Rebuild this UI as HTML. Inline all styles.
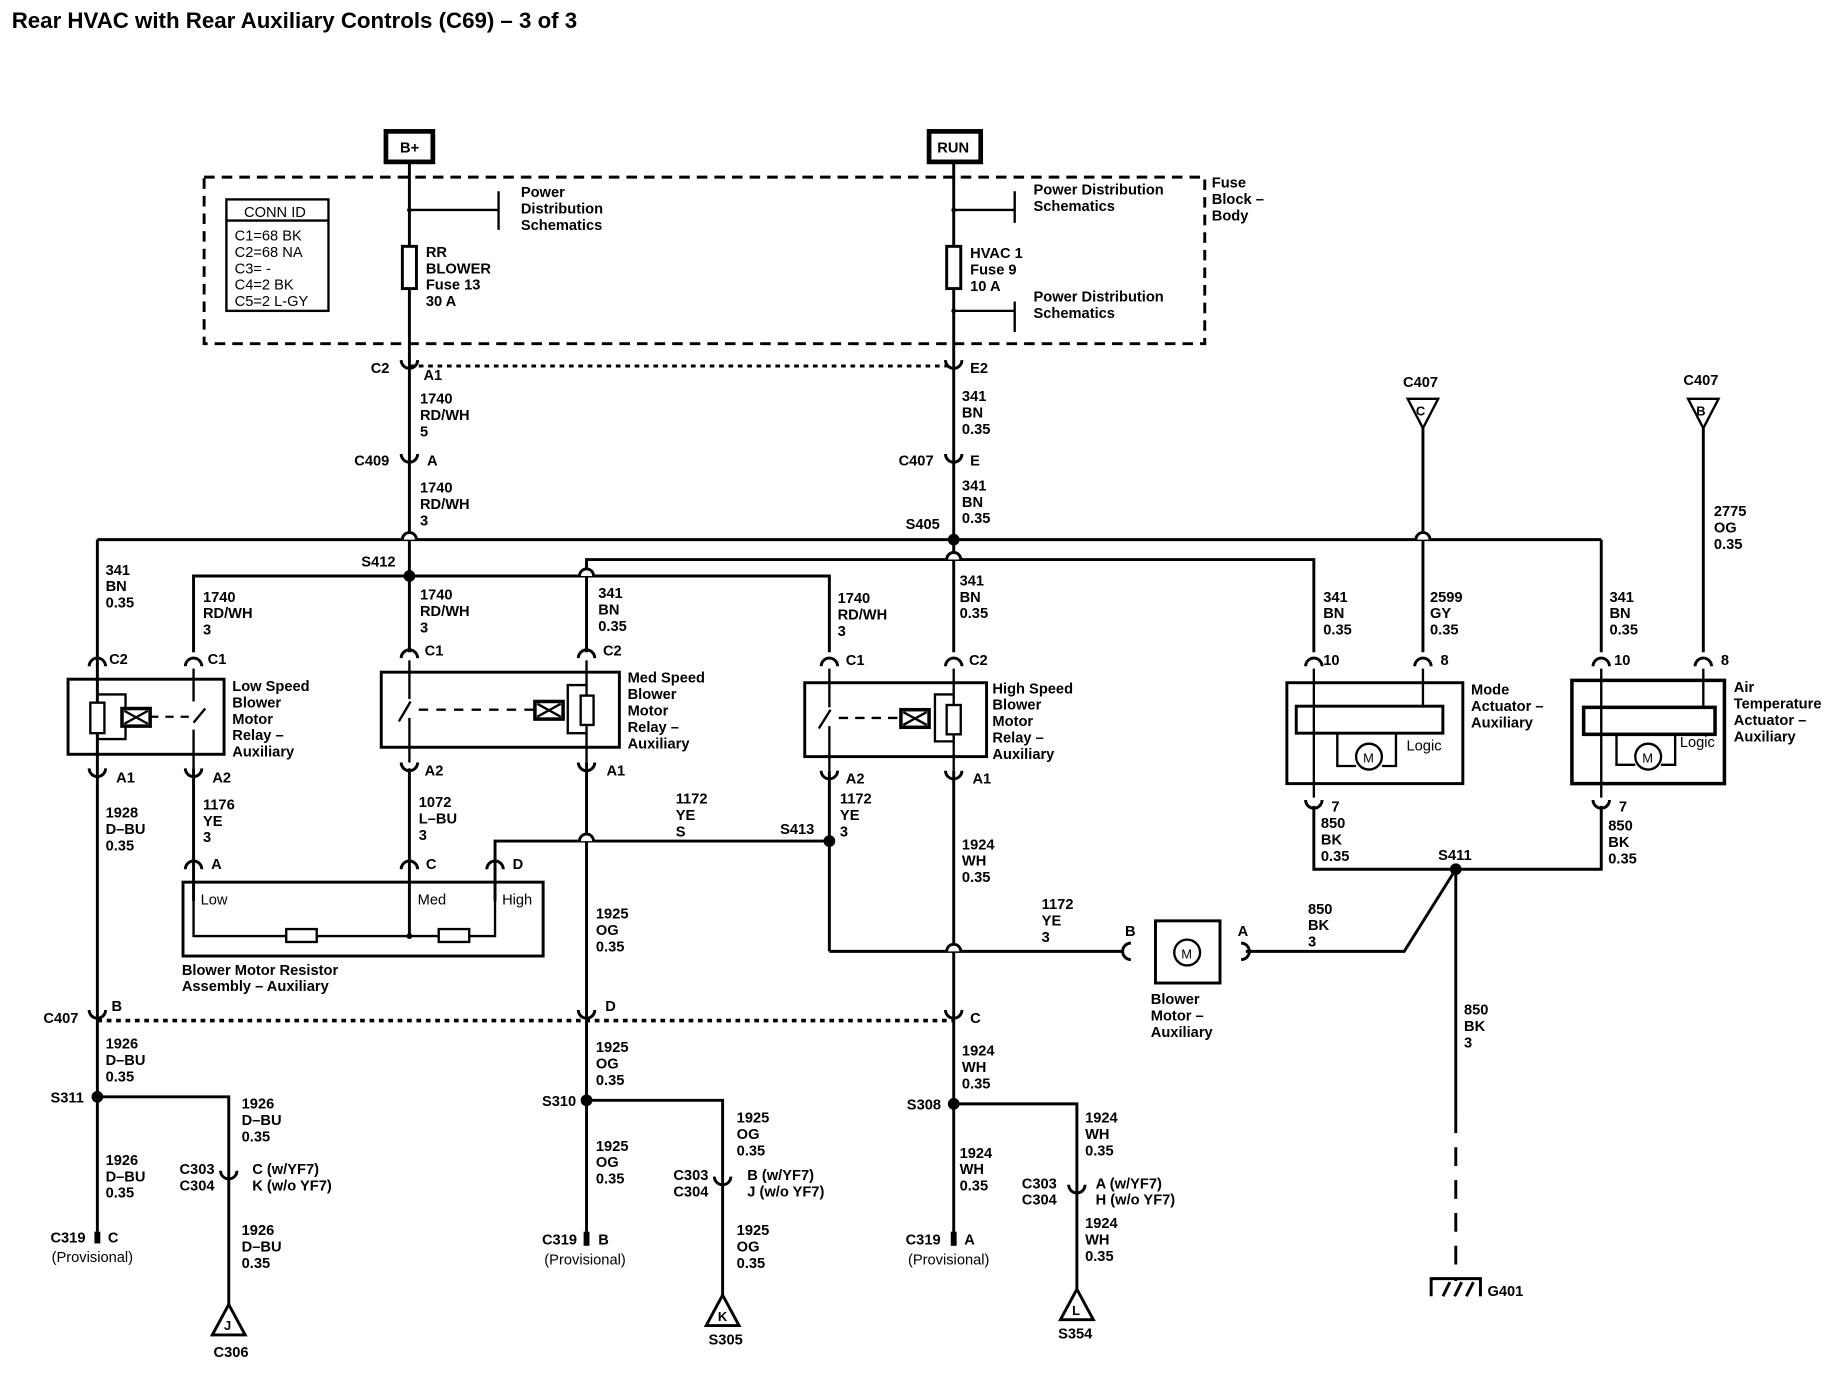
<!DOCTYPE html>
<html><head><meta charset="utf-8"><style>
html,body{margin:0;padding:0;background:#fff}
svg{display:block}
text{font-family:"Liberation Sans",sans-serif;font-size:12.5px;fill:#000;font-weight:bold}
.t{font-size:19px}
.n{font-weight:normal}
</style></head><body>
<svg width="1830" height="1376" viewBox="0 0 1560 1173" preserveAspectRatio="none" xmlns="http://www.w3.org/2000/svg">
<defs>
<path id="up" d="M-7,5 A7,7 0 0 1 7,5" fill="none" stroke="#000" stroke-width="2.5"/>
<path id="dn" d="M-7,-5 A7,7 0 0 0 7,-5" fill="none" stroke="#000" stroke-width="2.5"/>
<path id="hop" d="M-6,0 A6,6 0 0 1 6,0" fill="#fff" stroke="#000" stroke-width="2.5"/>
</defs>
<rect width="1560" height="1173" fill="#fff"/>
<text x="10" y="24" class="t">Rear HVAC with Rear Auxiliary Controls (C69) – 3 of 3</text>

<g fill="none" stroke="#000" stroke-width="2.5">
<rect x="329" y="112" width="40" height="26" stroke-width="4"/>
<rect x="792" y="112" width="44" height="26" stroke-width="4"/>
<rect x="174" y="151" width="853" height="142" stroke-dasharray="9,6" stroke-width="2.5"/>
<rect x="193" y="170" width="87" height="95" stroke-width="2"/>
<line x1="193" y1="188" x2="280" y2="188" stroke-width="2"/>
<line x1="349" y1="138" x2="349" y2="556"/>
<line x1="813" y1="138" x2="813" y2="556"/>
<rect x="343" y="210" width="12" height="36" fill="#fff"/>
<rect x="807" y="210" width="12" height="36" fill="#fff"/>
<path d="M349,179 H425 M425,163 V196 M813,179 H865 M865,163 V190 M813,265 H865 M865,257 V283" stroke-width="2"/>
<line x1="349" y1="312" x2="813" y2="312" stroke-dasharray="4,4" stroke-width="2.5"/>
<line x1="83" y1="460" x2="1365" y2="460"/>
<path d="M500,556 V477 H1120 V556"/>
<path d="M165,556 V491 H707 V556"/>
<line x1="83" y1="460" x2="83" y2="1050"/>
<line x1="1365" y1="460" x2="1365" y2="556"/>
<line x1="1213" y1="365" x2="1213" y2="556"/>
<line x1="1452" y1="365" x2="1452" y2="556"/>
<path d="M1200,340 H1226 L1213,365 Z M1439,340 H1465 L1452,365 Z" stroke-width="2"/>
<rect x="58" y="579" width="133" height="64"/>
<rect x="325" y="573" width="203" height="64"/>
<rect x="686" y="582" width="155" height="63"/>
<path d="M83,570 V655 M83,592 H107 V630 H83 M165,570 V598 M165,622 V655 M165,616 L175,604" stroke-width="2"/>
<rect x="77" y="599" width="12" height="26" fill="#fff" stroke-width="2"/>
<rect x="104" y="604" width="24" height="15" fill="#fff" stroke-width="3"/>
<path d="M106,606 L126,617 M126,606 L106,617" stroke-width="2"/>
<line x1="128" y1="611" x2="163" y2="611" stroke-dasharray="7,6" stroke-width="2"/>
<path d="M349,563 V596 M349,612 V650 M340,615 L350,598 M500,563 V650 M500,584 H484 V625 H500" stroke-width="2"/>
<rect x="495" y="593" width="11" height="25" fill="#fff" stroke-width="2"/>
<rect x="456" y="598" width="24" height="15" fill="#fff" stroke-width="3"/>
<path d="M458,600 L478,611 M478,600 L458,611" stroke-width="2"/>
<line x1="357" y1="605" x2="455" y2="605" stroke-dasharray="8,7" stroke-width="2"/>
<path d="M707,570 V603 M707,619 V657 M698,621 L708,605 M813,570 V657 M813,592 H797 V632 H813" stroke-width="2"/>
<rect x="807" y="601" width="12" height="25" fill="#fff" stroke-width="2"/>
<rect x="768" y="605" width="24" height="15" fill="#fff" stroke-width="3"/>
<path d="M770,607 L790,618 M790,607 L770,618" stroke-width="2"/>
<line x1="715" y1="612" x2="767" y2="612" stroke-dasharray="8,6" stroke-width="2"/>
<line x1="165" y1="655" x2="165" y2="768"/>
<line x1="349" y1="655" x2="349" y2="798"/>
<line x1="500" y1="650" x2="500" y2="1050"/>
<line x1="707" y1="657" x2="707" y2="811"/>
<line x1="813" y1="657" x2="813" y2="1055"/>
<path d="M422,768 V717 H707"/>
<path d="M707,811 H958"/>
<rect x="156" y="752" width="307" height="63"/>
<path d="M165,740 V798 H422 V740" stroke-width="2"/>
<rect x="244" y="792" width="26" height="11" fill="#fff" stroke-width="2"/>
<rect x="374" y="792" width="26" height="11" fill="#fff" stroke-width="2"/>
<rect x="985" y="785" width="55" height="53"/>
<circle cx="1012" cy="812" r="11" stroke-width="2"/>
<path d="M1062,811 H1197 L1241,741"/>
<rect x="1097" y="582" width="150" height="86"/>
<rect x="1105" y="602" width="125" height="23"/>
<path d="M1120,570 V680 M1213,570 V602 M1140,625 V653 H1156 M1178,653 H1190 V625" stroke-width="2"/>
<circle cx="1167" cy="645" r="11" stroke-width="2"/>
<rect x="1340" y="580" width="130" height="88" stroke-width="3"/>
<rect x="1350" y="603" width="112" height="23" stroke-width="3"/>
<path d="M1365,570 V680 M1452,570 V603 M1378,626 V652 H1394 M1416,652 H1428 V626" stroke-width="2"/>
<circle cx="1405" cy="645" r="11" stroke-width="2"/>
<path d="M1120,687 V741 H1365 V687"/>
<line x1="1241" y1="741" x2="1241" y2="950"/>
<line x1="1241" y1="950" x2="1241" y2="1092" stroke-dasharray="16,12"/>
<path d="M1220,1105 V1090 H1262 V1105 M1230,1105 L1236,1093 M1240,1105 L1246,1093 M1250,1105 L1256,1093" stroke-width="2.5"/>
<line x1="83" y1="870" x2="813" y2="870" stroke-dasharray="4,4" stroke-width="3"/>
<path d="M83,935 H195 V1112"/>
<path d="M500,938 H616 V1105"/>
<path d="M813,941 H918 V1100"/>
<line x1="83" y1="1050" x2="83" y2="1060" stroke-width="5"/>
<line x1="500" y1="1050" x2="500" y2="1062" stroke-width="5"/>
<line x1="813" y1="1050" x2="813" y2="1062" stroke-width="5"/>
<path d="M181,1138 H209 L195,1112 Z M602,1130 H630 L616,1104 Z M904,1125 H932 L918,1099 Z" stroke-width="2.5"/>
</g>
<use href="#hop" x="349" y="460"/><use href="#hop" x="1213" y="460"/>
<use href="#hop" x="813" y="477"/><use href="#hop" x="500" y="491"/>
<use href="#hop" x="500" y="717"/><use href="#hop" x="813" y="811"/>
<g fill="#000">
<circle cx="349" cy="491" r="5"/><circle cx="813" cy="460" r="5"/>
<circle cx="707" cy="717" r="5"/><circle cx="1241" cy="741" r="5"/>
<circle cx="83" cy="935" r="5"/><circle cx="500" cy="938" r="5"/><circle cx="813" cy="941" r="5"/>
<circle cx="349" cy="179" r="2"/><circle cx="813" cy="179" r="2"/><circle cx="813" cy="265" r="2"/>
<circle cx="349" cy="798" r="2.5"/>
</g>
<use href="#dn" x="349" y="312"/><use href="#dn" x="813" y="312"/>
<use href="#dn" x="349" y="392"/><use href="#dn" x="813" y="392"/>
<use href="#up" x="83" y="563"/><use href="#up" x="165" y="563"/>
<use href="#up" x="349" y="556"/><use href="#up" x="500" y="556"/>
<use href="#up" x="707" y="563"/><use href="#up" x="813" y="563"/>
<use href="#up" x="1120" y="563"/><use href="#up" x="1213" y="563"/>
<use href="#up" x="1365" y="563"/><use href="#up" x="1452" y="563"/>
<use href="#dn" x="83" y="660"/><use href="#dn" x="165" y="660"/>
<use href="#dn" x="349" y="655"/><use href="#dn" x="500" y="655"/>
<use href="#dn" x="707" y="662"/><use href="#dn" x="813" y="662"/>
<use href="#dn" x="1120" y="687"/><use href="#dn" x="1365" y="687"/>
<use href="#up" x="165" y="736"/><use href="#up" x="349" y="736"/><use href="#up" x="422" y="736"/>
<use href="#dn" x="83" y="866"/><use href="#dn" x="500" y="866"/><use href="#dn" x="813" y="866"/>
<use href="#dn" x="195" y="1003"/><use href="#dn" x="616" y="1008"/><use href="#dn" x="918" y="1015"/>
<path d="M964,804 A7,7 0 0 0 964,818 M1058,804 A7,7 0 0 1 1058,818" fill="none" stroke="#000" stroke-width="2.5"/>

<text x="341" y="130">B+</text><text x="799" y="130">RUN</text>
<text x="208" y="185" style="font-weight:normal">CONN ID</text>
<text x="200" y="205" style="font-weight:normal">C1=68 BK</text>
<text x="200" y="219" style="font-weight:normal">C2=68 NA</text>
<text x="200" y="233" style="font-weight:normal">C3= -</text>
<text x="200" y="247" style="font-weight:normal">C4=2 BK</text>
<text x="200" y="261" style="font-weight:normal">C5=2 L-GY</text>
<text x="444" y="168">Power</text><text x="444" y="182">Distribution</text><text x="444" y="196">Schematics</text>
<text x="363" y="219">RR</text><text x="363" y="233">BLOWER</text><text x="363" y="247">Fuse 13</text><text x="363" y="261">30 A</text>
<text x="881" y="166">Power Distribution</text><text x="881" y="180">Schematics</text>
<text x="827" y="220">HVAC 1</text><text x="827" y="234">Fuse 9</text><text x="827" y="248">10 A</text>
<text x="881" y="257">Power Distribution</text><text x="881" y="271">Schematics</text>
<text x="1033" y="160">Fuse</text><text x="1033" y="174">Block –</text><text x="1033" y="188">Body</text>
<text x="316" y="318">C2</text><text x="361" y="324">A1</text>
<text x="827" y="318">E2</text>
<text x="358" y="344">1740</text><text x="358" y="358">RD/WH</text><text x="358" y="372">5</text>
<text x="820" y="342">341</text><text x="820" y="356">BN</text><text x="820" y="370">0.35</text>
<text x="302" y="397">C409</text><text x="364" y="397">A</text>
<text x="766" y="397">C407</text><text x="827" y="397">E</text>
<text x="358" y="420">1740</text><text x="358" y="434">RD/WH</text><text x="358" y="448">3</text>
<text x="820" y="418">341</text><text x="820" y="432">BN</text><text x="820" y="446">0.35</text>
<text x="772" y="451">S405</text><text x="308" y="483">S412</text>
<text x="1196" y="330">C407</text><text x="1435" y="328">C407</text>
<text x="1207" y="354" style="font-size:11px">C</text><text x="1446" y="354" style="font-size:11px">B</text>
<text x="1461" y="440">2775</text><text x="1461" y="454">OG</text><text x="1461" y="468">0.35</text>
<text x="90" y="490">341</text><text x="90" y="504">BN</text><text x="90" y="518">0.35</text>
<text x="173" y="513">1740</text><text x="173" y="527">RD/WH</text><text x="173" y="541">3</text>
<text x="358" y="511">1740</text><text x="358" y="525">RD/WH</text><text x="358" y="539">3</text>
<text x="510" y="510">341</text><text x="510" y="524">BN</text><text x="510" y="538">0.35</text>
<text x="714" y="514">1740</text><text x="714" y="528">RD/WH</text><text x="714" y="542">3</text>
<text x="818" y="499">341</text><text x="818" y="513">BN</text><text x="818" y="527">0.35</text>
<text x="1128" y="513">341</text><text x="1128" y="527">BN</text><text x="1128" y="541">0.35</text>
<text x="1219" y="513">2599</text><text x="1219" y="527">GY</text><text x="1219" y="541">0.35</text>
<text x="1372" y="513">341</text><text x="1372" y="527">BN</text><text x="1372" y="541">0.35</text>
<text x="93" y="566">C2</text><text x="177" y="566">C1</text>
<text x="362" y="559">C1</text><text x="514" y="559">C2</text>
<text x="721" y="567">C1</text><text x="826" y="567">C2</text>
<text x="1128" y="567">10</text><text x="1228" y="567">8</text>
<text x="1376" y="567">10</text><text x="1467" y="567">8</text>
<text x="198" y="589">Low Speed</text><text x="198" y="603">Blower</text><text x="198" y="617">Motor</text><text x="198" y="631">Relay –</text><text x="198" y="645">Auxiliary</text>
<text x="535" y="582">Med Speed</text><text x="535" y="596">Blower</text><text x="535" y="610">Motor</text><text x="535" y="624">Relay –</text><text x="535" y="638">Auxiliary</text>
<text x="846" y="591">High Speed</text><text x="846" y="605">Blower</text><text x="846" y="619">Motor</text><text x="846" y="633">Relay –</text><text x="846" y="647">Auxiliary</text>
<text x="1254" y="592">Mode</text><text x="1254" y="606">Actuator –</text><text x="1254" y="620">Auxiliary</text>
<text x="1478" y="590">Air</text><text x="1478" y="604">Temperature</text><text x="1478" y="618">Actuator –</text><text x="1478" y="632">Auxiliary</text>
<text x="1199" y="640" style="font-weight:normal">Logic</text><text x="1432" y="637" style="font-weight:normal">Logic</text>
<text x="1162" y="650" style="font-weight:normal;font-size:11px">M</text><text x="1400" y="650" style="font-weight:normal;font-size:11px">M</text>
<text x="1007" y="817" style="font-weight:normal;font-size:11px">M</text>
<text x="99" y="667">A1</text><text x="181" y="667">A2</text>
<text x="362" y="661">A2</text><text x="517" y="661">A1</text>
<text x="721" y="668">A2</text><text x="829" y="668">A1</text>
<text x="1135" y="692">7</text><text x="1380" y="692">7</text>
<text x="90" y="697">1928</text><text x="90" y="711">D–BU</text><text x="90" y="725">0.35</text>
<text x="173" y="690">1176</text><text x="173" y="704">YE</text><text x="173" y="718">3</text>
<text x="357" y="688">1072</text><text x="357" y="702">L–BU</text><text x="357" y="716">3</text>
<text x="576" y="685">1172</text><text x="576" y="699">YE</text><text x="576" y="713">S</text>
<text x="716" y="685">1172</text><text x="716" y="699">YE</text><text x="716" y="713">3</text>
<text x="665" y="711">S413</text>
<text x="1126" y="706">850</text><text x="1126" y="720">BK</text><text x="1126" y="734">0.35</text>
<text x="1371" y="708">850</text><text x="1371" y="722">BK</text><text x="1371" y="736">0.35</text>
<text x="1226" y="733">S411</text>
<text x="820" y="724">1924</text><text x="820" y="738">WH</text><text x="820" y="752">0.35</text>
<text x="180" y="741">A</text><text x="363" y="741">C</text><text x="437" y="741">D</text>
<text x="171" y="771" style="font-weight:normal">Low</text><text x="356" y="771" style="font-weight:normal">Med</text><text x="428" y="771" style="font-weight:normal">High</text>
<text x="508" y="783">1925</text><text x="508" y="797">OG</text><text x="508" y="811">0.35</text>
<text x="888" y="775">1172</text><text x="888" y="789">YE</text><text x="888" y="803">3</text>
<text x="1115" y="779">850</text><text x="1115" y="793">BK</text><text x="1115" y="807">3</text>
<text x="959" y="798">B</text><text x="1055" y="798">A</text>
<text x="155" y="831">Blower Motor Resistor</text><text x="155" y="845">Assembly – Auxiliary</text>
<text x="981" y="856">Blower</text><text x="981" y="870">Motor –</text><text x="981" y="884">Auxiliary</text>
<text x="1248" y="865">850</text><text x="1248" y="879">BK</text><text x="1248" y="893">3</text>
<text x="37" y="872">C407</text><text x="95" y="862">B</text><text x="516" y="862">D</text><text x="827" y="872">C</text>
<text x="90" y="894">1926</text><text x="90" y="908">D–BU</text><text x="90" y="922">0.35</text>
<text x="508" y="897">1925</text><text x="508" y="911">OG</text><text x="508" y="925">0.35</text>
<text x="820" y="900">1924</text><text x="820" y="914">WH</text><text x="820" y="928">0.35</text>
<text x="43" y="940">S311</text><text x="462" y="943">S310</text><text x="773" y="946">S308</text>
<text x="206" y="945">1926</text><text x="206" y="959">D–BU</text><text x="206" y="973">0.35</text>
<text x="628" y="957">1925</text><text x="628" y="971">OG</text><text x="628" y="985">0.35</text>
<text x="925" y="957">1924</text><text x="925" y="971">WH</text><text x="925" y="985">0.35</text>
<text x="90" y="993">1926</text><text x="90" y="1007">D–BU</text><text x="90" y="1021">0.35</text>
<text x="508" y="981">1925</text><text x="508" y="995">OG</text><text x="508" y="1009">0.35</text>
<text x="818" y="987">1924</text><text x="818" y="1001">WH</text><text x="818" y="1015">0.35</text>
<text x="153" y="1001">C303</text><text x="153" y="1015">C304</text><text x="215" y="1001">C (w/YF7)</text><text x="215" y="1015">K (w/o YF7)</text>
<text x="574" y="1006">C303</text><text x="574" y="1020">C304</text><text x="637" y="1006">B (w/YF7)</text><text x="637" y="1020">J (w/o YF7)</text>
<text x="871" y="1013">C303</text><text x="871" y="1027">C304</text><text x="934" y="1013">A (w/YF7)</text><text x="934" y="1027">H (w/o YF7)</text>
<text x="206" y="1053">1926</text><text x="206" y="1067">D–BU</text><text x="206" y="1081">0.35</text>
<text x="628" y="1053">1925</text><text x="628" y="1067">OG</text><text x="628" y="1081">0.35</text>
<text x="925" y="1047">1924</text><text x="925" y="1061">WH</text><text x="925" y="1075">0.35</text>
<text x="43" y="1059">C319</text><text x="92" y="1059">C</text><text x="44" y="1076" style="font-weight:normal">(Provisional)</text>
<text x="462" y="1061">C319</text><text x="510" y="1061">B</text><text x="464" y="1078" style="font-weight:normal">(Provisional)</text>
<text x="772" y="1061">C319</text><text x="822" y="1061">A</text><text x="774" y="1078" style="font-weight:normal">(Provisional)</text>
<text x="191" y="1134" style="font-size:11px">J</text><text x="612" y="1126" style="font-size:11px">K</text><text x="914" y="1121" style="font-size:11px">L</text>
<text x="182" y="1157">C306</text><text x="604" y="1146">S305</text><text x="902" y="1141">S354</text>
<text x="1268" y="1105">G401</text>
</svg>
</body></html>
